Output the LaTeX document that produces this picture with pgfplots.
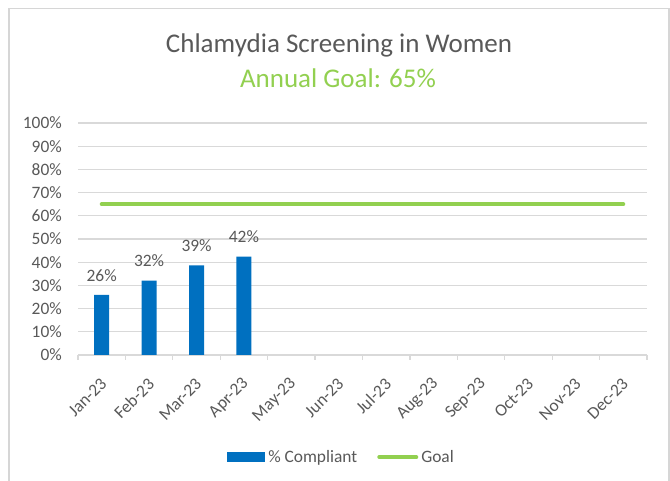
\documentclass[border=0pt]{standalone}
\usepackage{pgfplots}
\pgfplotsset{compat=1.18}
\usepackage{fontspec}
\setmainfont{Carlito}
\definecolor{barblue}{RGB}{0,112,192}
\definecolor{goalgreen}{RGB}{146,208,80}
\definecolor{txtgray}{RGB}{89,89,89}
\definecolor{gridgray}{RGB}{217,217,217}
\definecolor{framegray}{RGB}{214,214,214}
\begin{document}
\begin{tikzpicture}[x=1pt,y=1pt]
\useasboundingbox (0,0) rectangle (670,481);
\fill[white] (0,0) rectangle (670,481);
\draw[framegray, line width=1.3pt] (9,-2) -- (9,472.5) -- (669,472.5) -- (669,-2);
\node[anchor=base, text=txtgray, font=\fontsize{27}{32}\selectfont] at (339,428) {Chlamydia Screening in Women};
\node[anchor=base, text=goalgreen, font=\fontsize{27}{32}\selectfont] at (338,393) {Annual Goal: 65\%};
\begin{axis}[
  at={(78pt,126pt)}, anchor=south west,
  scale only axis, width=569pt, height=232pt,
  xmin=-0.5, xmax=11.5, ymin=0, ymax=100,
  axis x line*=bottom, axis y line*=left,
  x axis line style={gridgray, line width=1.3pt},
  y axis line style={draw=none},
  xtick={0,...,11},
  xticklabels={Jan-23,Feb-23,Mar-23,Apr-23,May-23,Jun-23,Jul-23,Aug-23,Sep-23,Oct-23,Nov-23,Dec-23},
  minor xtick={-0.5,0.5,...,11.5},
  major tick length=0pt, minor tick length=5pt,
  tick align=outside,
  minor tick style={gridgray, line width=1.3pt},
  ytick={0,10,...,100},
  yticklabels={0\%,10\%,20\%,30\%,40\%,50\%,60\%,70\%,80\%,90\%,100\%},
  ymajorgrids, grid style={gridgray, line width=1.3pt},
  tick label style={text=txtgray, font=\fontsize{17.4}{20}\selectfont},
  yticklabel style={anchor=east, inner sep=0pt, xshift=-16pt},
  xticklabel style={rotate=45, anchor=east, inner sep=0pt, xshift=-17pt, yshift=-20pt},
  /pgf/number format/assume math mode=true,
  legend style={at={(0.464,-0.44)}, anchor=center, draw=none, fill=none,
    legend columns=2, font=\fontsize{17.4}{20}\selectfont, text=txtgray,
    nodes={inner xsep=3pt, inner ysep=0pt},
    /tikz/every even column/.append style={column sep=17pt}},
]
\addplot[ybar, bar width=15pt, fill=barblue, draw=none,
  nodes near coords={\pgfmathprintnumber[fixed,precision=0]{\pgfplotspointmeta}\%},
  every node near coord/.append style={text=txtgray, font=\fontsize{17.4}{20}\selectfont, yshift=10pt},
  legend image code/.code={\fill[barblue] (0pt,-4.6pt) rectangle (38pt,4.6pt);}]
  coordinates {(0,25.9) (1,32.1) (2,38.6) (3,42.4)};
\addlegendentry{\% Compliant}
\addplot[goalgreen, line width=4pt, line cap=round, mark=none,
  legend image code/.code={\draw[goalgreen, line width=4pt, line cap=round] (2pt,0pt) -- (39pt,0pt);}]
  coordinates {(0,65) (1,65) (2,65) (3,65) (4,65) (5,65) (6,65) (7,65) (8,65) (9,65) (10,65) (11,65)};
\addlegendentry{Goal}
\end{axis}
\end{tikzpicture}
\end{document}
